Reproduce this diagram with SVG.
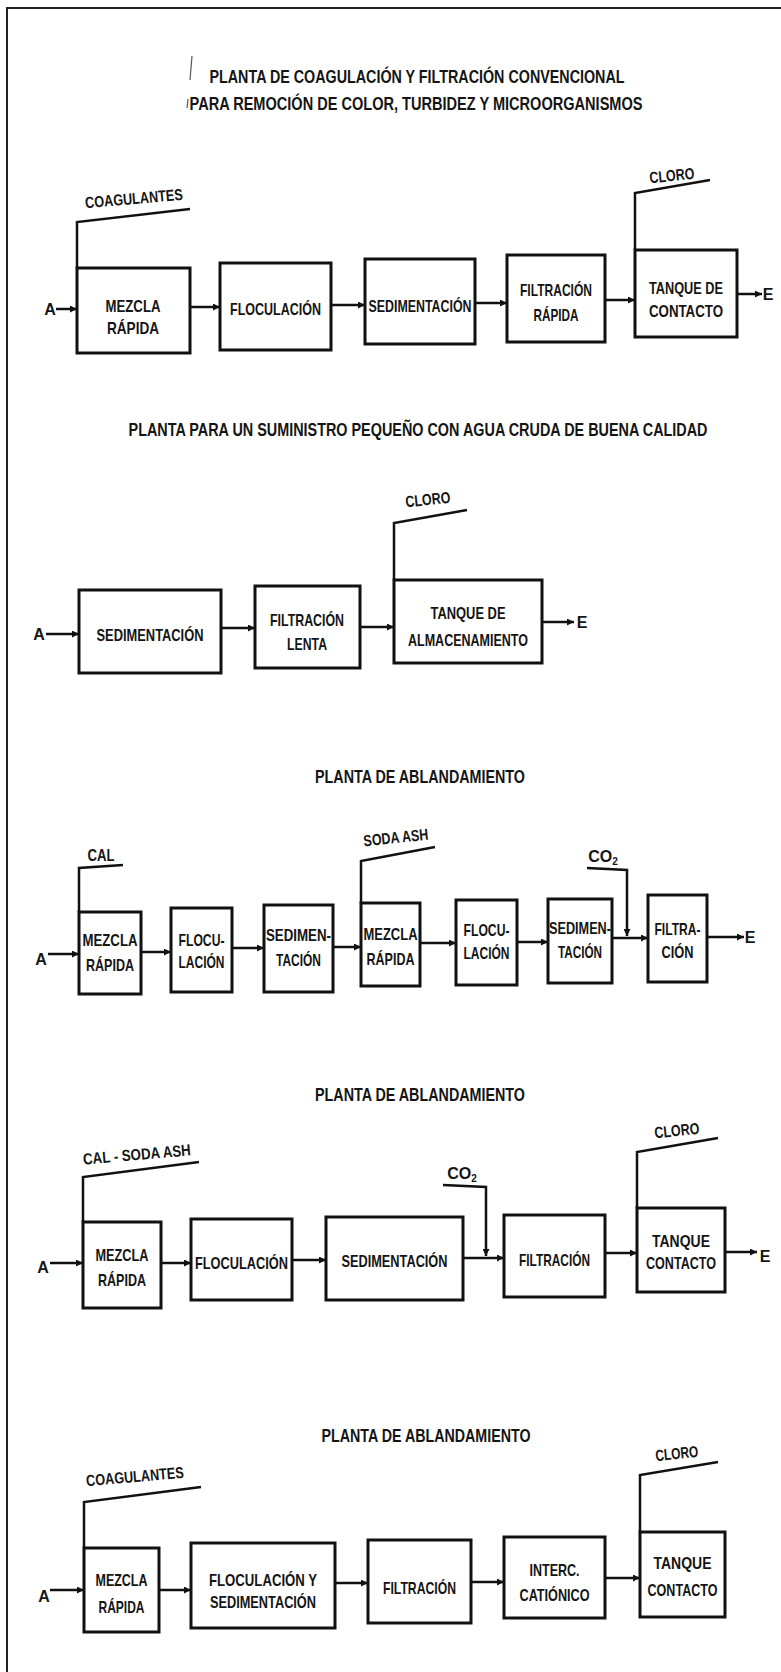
<svg xmlns="http://www.w3.org/2000/svg" width="781" height="1672" viewBox="0 0 781 1672">
<defs>
<marker id="ah" viewBox="0 0 8 8" refX="8" refY="4" markerWidth="7" markerHeight="7" markerUnits="userSpaceOnUse" orient="auto"><path d="M0,0 L8,4 L0,8 z" fill="#111"/></marker>
<linearGradient id="fade" x1="0" y1="0" x2="0" y2="1"><stop offset="0" stop-color="#ccc"/><stop offset="0.45" stop-color="#777"/><stop offset="1" stop-color="#222"/></linearGradient>
<style>
.box{fill:#fff;stroke:#111;stroke-width:3}
.ln{fill:none;stroke:#111;stroke-width:2.5}
.ar{fill:none;stroke:#111;stroke-width:2.5;marker-end:url(#ah)}
text{font-family:"Liberation Sans",Arial,sans-serif;font-weight:bold;fill:#151515}
.t{font-size:18px;text-anchor:middle}
.l{font-size:17px;text-anchor:middle}
.s{font-size:16px;text-anchor:middle}
</style>
</defs>
<rect width="781" height="1672" fill="#fff"/>
<g id="frame">
<path d="M7,1672 V8 H781" fill="none" stroke="#222" stroke-width="2"/>
<path d="M30,1000 V1665" fill="none" stroke="url(#fade)" stroke-width="2"/>
<path d="M192,56 L190,80 M188,99 L187,108" fill="none" stroke="#555" stroke-width="1.2"/>
</g>
<g id="titles">
<text class="t" x="417" y="83" textLength="415" lengthAdjust="spacingAndGlyphs">PLANTA DE COAGULACIÓN Y FILTRACIÓN CONVENCIONAL</text>
<text class="t" x="416" y="110" textLength="453" lengthAdjust="spacingAndGlyphs">PARA REMOCIÓN DE COLOR, TURBIDEZ Y MICROORGANISMOS</text>
<text class="t" transform="translate(418 436) scale(0.774 1)" x="0" y="0" textLength="748" lengthAdjust="spacingAndGlyphs">PLANTA PARA UN SUMINISTRO PEQUEÑO CON AGUA CRUDA DE BUENA CALIDAD</text>
<text class="t" x="420" y="783" textLength="210" lengthAdjust="spacingAndGlyphs">PLANTA DE ABLANDAMIENTO</text>
<text class="t" x="420" y="1101" textLength="210" lengthAdjust="spacingAndGlyphs">PLANTA DE ABLANDAMIENTO</text>
<text class="t" x="426" y="1442" textLength="209" lengthAdjust="spacingAndGlyphs">PLANTA DE ABLANDAMIENTO</text>
</g>
<g id="connectors">
<path class="ar" d="M56,309 H77"/>
<path class="ar" d="M190,307 H220"/>
<path class="ar" d="M331,305 H365"/>
<path class="ar" d="M475,303 H507"/>
<path class="ar" d="M605,300 H635"/>
<path class="ar" d="M737,294 H762"/>
<path class="ln" d="M77,268 V222 L190,209"/>
<path class="ln" d="M635,250 V193 L710,180"/>
<path class="ar" d="M46,634 H79"/>
<path class="ar" d="M221,628 H255"/>
<path class="ar" d="M360,627 H394"/>
<path class="ar" d="M542,622 H574"/>
<path class="ln" d="M394,580 V523 L467,510"/>
<path class="ar" d="M48,954 H79"/>
<path class="ar" d="M141,952 H171"/>
<path class="ar" d="M232,948 H264"/>
<path class="ar" d="M333,947 H361"/>
<path class="ar" d="M420,943 H456"/>
<path class="ar" d="M517,942 H548"/>
<path class="ar" d="M612,938 H648"/>
<path class="ar" d="M707,937 H744"/>
<path class="ln" d="M79,912 V868 L123,865"/>
<path class="ln" d="M361,903 V861 L435,847"/>
<path class="ar" d="M587,868 L627,870 V936"/>
<path class="ar" d="M50,1263 H83"/>
<path class="ar" d="M161,1263 H191"/>
<path class="ar" d="M292,1260 H326"/>
<path class="ar" d="M463,1258 H504"/>
<path class="ar" d="M605,1253 H637"/>
<path class="ar" d="M725,1252 H757"/>
<path class="ln" d="M83,1222 V1177 L199,1162"/>
<path class="ar" d="M443,1185 L486,1187 V1256"/>
<path class="ln" d="M637,1208 V1152 L718,1138"/>
<path class="ar" d="M50,1590 H84"/>
<path class="ar" d="M159,1590 H191"/>
<path class="ar" d="M335,1583 H368"/>
<path class="ar" d="M471,1582 H504"/>
<path class="ar" d="M605,1578 H640"/>
<path class="ln" d="M84,1548 V1502 L201,1487"/>
<path class="ln" d="M640,1532 V1475 L718,1462"/>
</g>
<g id="labels">
<text class="s" x="50" y="315">A</text>
<text class="s" x="768" y="300">E</text>
<text class="s" x="134" y="204" textLength="98" lengthAdjust="spacingAndGlyphs" transform="rotate(-5 134 200)">COAGULANTES</text>
<text class="s" x="672" y="181" textLength="45" lengthAdjust="spacingAndGlyphs" transform="rotate(-6 672 177)">CLORO</text>
<text class="s" x="39" y="640">A</text>
<text class="s" x="582" y="628">E</text>
<text class="s" x="428" y="505" textLength="45" lengthAdjust="spacingAndGlyphs" transform="rotate(-6 428 501)">CLORO</text>
<text class="s" x="41" y="965">A</text>
<text class="s" x="750" y="943">E</text>
<text class="s" x="101" y="861" textLength="27" lengthAdjust="spacingAndGlyphs">CAL</text>
<text class="s" x="396" y="843" textLength="65" lengthAdjust="spacingAndGlyphs" transform="rotate(-6 396 839)">SODA ASH</text>
<text class="s" x="603" y="862">CO<tspan font-size="10" dy="3">2</tspan></text>
<text class="s" x="137" y="1160" textLength="108" lengthAdjust="spacingAndGlyphs" transform="rotate(-5 137 1156)">CAL - SODA ASH</text>
<text class="s" x="43" y="1273">A</text>
<text class="s" x="462" y="1179">CO<tspan font-size="10" dy="3">2</tspan></text>
<text class="s" x="677" y="1136" textLength="45" lengthAdjust="spacingAndGlyphs" transform="rotate(-6 677 1132)">CLORO</text>
<text class="s" x="765" y="1262">E</text>
<text class="s" x="135" y="1482" textLength="98" lengthAdjust="spacingAndGlyphs" transform="rotate(-5 135 1478)">COAGULANTES</text>
<text class="s" x="44" y="1602">A</text>
<text class="s" x="677" y="1459" textLength="43" lengthAdjust="spacingAndGlyphs" transform="rotate(-6 677 1455)">CLORO</text>
</g>
<g id="r1-mezcla"><rect class="box" x="77" y="268" width="113" height="85"/>
<text class="l" x="133" y="312" textLength="55" lengthAdjust="spacingAndGlyphs">MEZCLA</text>
<text class="l" x="133" y="334" textLength="52" lengthAdjust="spacingAndGlyphs">RÁPIDA</text></g>
<g id="r1-floc"><rect class="box" x="220" y="263" width="111" height="87"/>
<text class="l" x="275.5" y="315" textLength="91" lengthAdjust="spacingAndGlyphs">FLOCULACIÓN</text></g>
<g id="r1-sed"><rect class="box" x="365" y="259" width="110" height="85"/>
<text class="l" x="420" y="312" textLength="103" lengthAdjust="spacingAndGlyphs">SEDIMENTACIÓN</text></g>
<g id="r1-filt"><rect class="box" x="507" y="255" width="98" height="87"/>
<text class="l" x="556" y="296" textLength="72" lengthAdjust="spacingAndGlyphs">FILTRACIÓN</text>
<text class="l" x="556" y="321" textLength="45" lengthAdjust="spacingAndGlyphs">RÁPIDA</text></g>
<g id="r1-tanque"><rect class="box" x="635" y="250" width="102" height="87"/>
<text class="l" x="686" y="294" textLength="74" lengthAdjust="spacingAndGlyphs">TANQUE DE</text>
<text class="l" x="686" y="317" textLength="74" lengthAdjust="spacingAndGlyphs">CONTACTO</text></g>
<g id="r2-sed"><rect class="box" x="79" y="590" width="142" height="83"/>
<text class="l" x="150" y="641" textLength="107" lengthAdjust="spacingAndGlyphs">SEDIMENTACIÓN</text></g>
<g id="r2-filt"><rect class="box" x="255" y="586" width="105" height="82"/>
<text class="l" x="307" y="626" textLength="74" lengthAdjust="spacingAndGlyphs">FILTRACIÓN</text>
<text class="l" x="307" y="650" textLength="40" lengthAdjust="spacingAndGlyphs">LENTA</text></g>
<g id="r2-tanque"><rect class="box" x="394" y="580" width="148" height="83"/>
<text class="l" x="468" y="619" textLength="75" lengthAdjust="spacingAndGlyphs">TANQUE DE</text>
<text class="l" x="468" y="646" textLength="120" lengthAdjust="spacingAndGlyphs">ALMACENAMIENTO</text></g>
<g id="r3-mezcla1"><rect class="box" x="79" y="912" width="62" height="82"/>
<text class="l" x="110" y="946" textLength="55" lengthAdjust="spacingAndGlyphs">MEZCLA</text>
<text class="l" x="110" y="971" textLength="48" lengthAdjust="spacingAndGlyphs">RÁPIDA</text></g>
<g id="r3-floc1"><rect class="box" x="171" y="908" width="61" height="84"/>
<text class="l" x="201.5" y="946" textLength="46" lengthAdjust="spacingAndGlyphs">FLOCU-</text>
<text class="l" x="201.5" y="968" textLength="46" lengthAdjust="spacingAndGlyphs">LACIÓN</text></g>
<g id="r3-sed1"><rect class="box" x="264" y="905" width="69" height="87"/>
<text class="l" x="298.5" y="941" textLength="65" lengthAdjust="spacingAndGlyphs">SEDIMEN-</text>
<text class="l" x="298.5" y="966" textLength="45" lengthAdjust="spacingAndGlyphs">TACIÓN</text></g>
<g id="r3-mezcla2"><rect class="box" x="361" y="903" width="59" height="83"/>
<text class="l" x="390.5" y="940" textLength="54" lengthAdjust="spacingAndGlyphs">MEZCLA</text>
<text class="l" x="390.5" y="965" textLength="48" lengthAdjust="spacingAndGlyphs">RÁPIDA</text></g>
<g id="r3-floc2"><rect class="box" x="456" y="900" width="61" height="85"/>
<text class="l" x="486.5" y="936" textLength="46" lengthAdjust="spacingAndGlyphs">FLOCU-</text>
<text class="l" x="486.5" y="959" textLength="46" lengthAdjust="spacingAndGlyphs">LACIÓN</text></g>
<g id="r3-sed2"><rect class="box" x="548" y="899" width="64" height="84"/>
<text class="l" x="580" y="934" textLength="62" lengthAdjust="spacingAndGlyphs">SEDIMEN-</text>
<text class="l" x="580" y="958" textLength="44" lengthAdjust="spacingAndGlyphs">TACIÓN</text></g>
<g id="r3-filt"><rect class="box" x="648" y="895" width="59" height="87"/>
<text class="l" x="677.5" y="935" textLength="46" lengthAdjust="spacingAndGlyphs">FILTRA-</text>
<text class="l" x="677.5" y="958" textLength="32" lengthAdjust="spacingAndGlyphs">CIÓN</text></g>
<g id="r4-mezcla"><rect class="box" x="83" y="1222" width="78" height="86"/>
<text class="l" x="122" y="1261" textLength="53" lengthAdjust="spacingAndGlyphs">MEZCLA</text>
<text class="l" x="122" y="1286" textLength="48" lengthAdjust="spacingAndGlyphs">RÁPIDA</text></g>
<g id="r4-floc"><rect class="box" x="191" y="1219" width="101" height="81"/>
<text class="l" x="241.5" y="1269" textLength="93" lengthAdjust="spacingAndGlyphs">FLOCULACIÓN</text></g>
<g id="r4-sed"><rect class="box" x="326" y="1217" width="137" height="83"/>
<text class="l" x="394.5" y="1267" textLength="106" lengthAdjust="spacingAndGlyphs">SEDIMENTACIÓN</text></g>
<g id="r4-filt"><rect class="box" x="504" y="1215" width="101" height="82"/>
<text class="l" x="554.5" y="1266" textLength="71" lengthAdjust="spacingAndGlyphs">FILTRACIÓN</text></g>
<g id="r4-tanque"><rect class="box" x="637" y="1208" width="88" height="84"/>
<text class="l" x="681" y="1247" textLength="58" lengthAdjust="spacingAndGlyphs">TANQUE</text>
<text class="l" x="681" y="1269" textLength="70" lengthAdjust="spacingAndGlyphs">CONTACTO</text></g>
<g id="r5-mezcla"><rect class="box" x="84" y="1548" width="75" height="84"/>
<text class="l" x="121.5" y="1586" textLength="52" lengthAdjust="spacingAndGlyphs">MEZCLA</text>
<text class="l" x="121.5" y="1613" textLength="46" lengthAdjust="spacingAndGlyphs">RÁPIDA</text></g>
<g id="r5-flocsed"><rect class="box" x="191" y="1543" width="144" height="85"/>
<text class="l" x="263" y="1586" textLength="108" lengthAdjust="spacingAndGlyphs">FLOCULACIÓN Y</text>
<text class="l" x="263" y="1608" textLength="106" lengthAdjust="spacingAndGlyphs">SEDIMENTACIÓN</text></g>
<g id="r5-filt"><rect class="box" x="368" y="1540" width="103" height="83"/>
<text class="l" x="419.5" y="1594" textLength="73" lengthAdjust="spacingAndGlyphs">FILTRACIÓN</text></g>
<g id="r5-interc"><rect class="box" x="504" y="1537" width="101" height="81"/>
<text class="l" x="554.5" y="1576" textLength="50" lengthAdjust="spacingAndGlyphs">INTERC.</text>
<text class="l" x="554.5" y="1601" textLength="70" lengthAdjust="spacingAndGlyphs">CATIÓNICO</text></g>
<g id="r5-tanque"><rect class="box" x="640" y="1532" width="85" height="85"/>
<text class="l" x="682.5" y="1569" textLength="58" lengthAdjust="spacingAndGlyphs">TANQUE</text>
<text class="l" x="682.5" y="1596" textLength="70" lengthAdjust="spacingAndGlyphs">CONTACTO</text></g>
</svg>
